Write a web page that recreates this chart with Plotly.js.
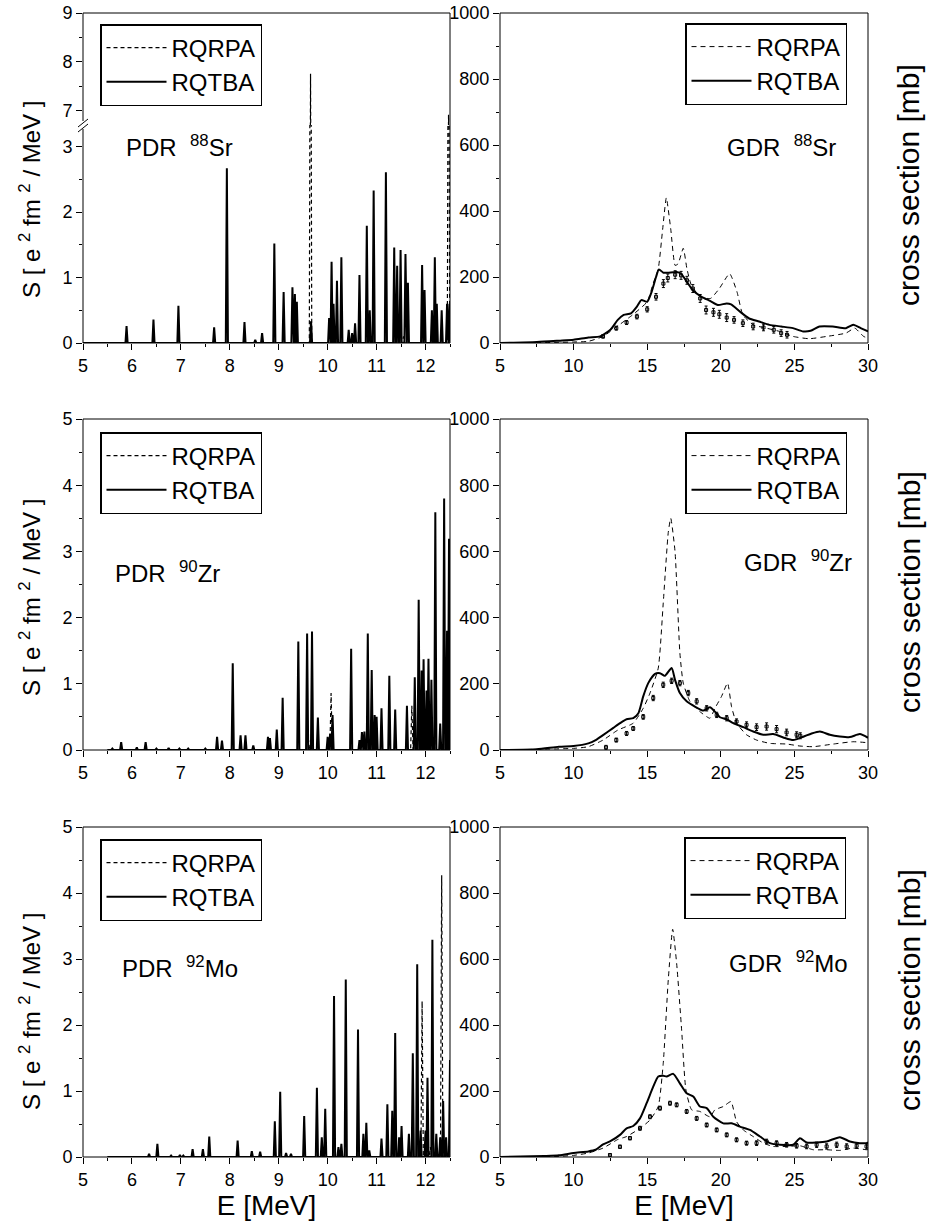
<!DOCTYPE html>
<html>
<head>
<meta charset="utf-8">
<script src="https://cdn.plot.ly/plotly-3.0.1.min.js"></script>
<style>html,body{margin:0;padding:0;background:#fff}#chart{width:930px;height:1228px}</style>
</head>
<body>
<div id="chart"></div>
<script>
// ---------------- DATA ----------------
// PDR strength: peak energies [MeV] and peak heights [e^2 fm^2 / MeV]
const srTbaE = [5.89, 6.44, 6.95, 7.68, 7.94, 8.30, 8.52, 8.66, 8.91, 9.10, 9.28, 9.33, 9.37, 9.66, 10.03, 10.08, 10.12, 10.19, 10.28, 10.43, 10.50, 10.56, 10.65, 10.80, 10.86, 10.94, 11.19, 11.36, 11.42, 11.49, 11.59, 11.64, 11.93, 11.98, 12.13, 12.19, 12.23, 12.33, 12.44, 12.49];
const srTbaS = [0.26, 0.36, 0.57, 0.24, 2.67, 0.32, 0.05, 0.15, 1.52, 0.78, 0.85, 0.75, 0.63, 0.33, 0.38, 1.24, 0.60, 0.95, 1.31, 0.20, 0.15, 0.30, 1.04, 1.79, 0.50, 2.33, 2.61, 1.46, 1.18, 1.42, 1.36, 0.92, 1.19, 0.81, 0.50, 1.31, 0.60, 0.50, 0.60, 0.60];
const srRpaE = [9.65, 11.55, 12.20, 12.47];
const srRpaS = [7.76, 0.10, 0.08, 6.92];

const zrTbaE = [5.60, 5.78, 6.10, 6.28, 6.50, 6.75, 6.97, 7.15, 7.50, 7.74, 7.84, 8.06, 8.22, 8.32, 8.48, 8.78, 8.82, 8.96, 9.08, 9.40, 9.58, 9.68, 9.80, 10.00, 10.05, 10.10, 10.48, 10.65, 10.70, 10.75, 10.82, 10.90, 10.96, 11.00, 11.10, 11.26, 11.38, 11.62, 11.78, 11.86, 11.92, 11.96, 12.02, 12.06, 12.12, 12.20, 12.30, 12.38, 12.44, 12.48];
const zrTbaS = [0.02, 0.12, 0.04, 0.12, 0.02, 0.03, 0.02, 0.02, 0.02, 0.20, 0.14, 1.31, 0.22, 0.22, 0.07, 0.20, 0.18, 0.31, 0.79, 1.64, 1.76, 1.79, 0.49, 0.20, 0.25, 0.53, 1.53, 0.15, 0.27, 0.28, 1.76, 1.21, 0.53, 0.50, 0.63, 1.12, 0.61, 0.67, 1.10, 2.27, 1.20, 1.37, 0.90, 1.38, 1.06, 3.59, 0.40, 3.80, 1.80, 3.19];
const zrRpaE = [9.65, 10.07, 11.72, 11.95, 12.20, 12.45];
const zrRpaS = [0.15, 0.86, 0.67, 0.35, 0.30, 0.75];

const moTbaE = [6.35, 6.52, 6.80, 6.98, 7.05, 7.24, 7.45, 7.58, 8.16, 8.45, 8.62, 8.92, 9.03, 9.15, 9.25, 9.52, 9.78, 9.88, 9.95, 10.13, 10.22, 10.28, 10.37, 10.62, 10.73, 10.79, 10.85, 11.10, 11.22, 11.32, 11.38, 11.46, 11.51, 11.66, 11.74, 11.83, 11.90, 12.00, 12.04, 12.14, 12.22, 12.30, 12.36, 12.42, 12.50];
const moTbaS = [0.05, 0.20, 0.02, 0.03, 0.02, 0.12, 0.12, 0.31, 0.25, 0.09, 0.08, 0.54, 0.99, 0.06, 0.05, 0.62, 1.05, 0.30, 0.73, 2.44, 0.15, 0.20, 2.69, 1.93, 0.35, 0.52, 0.10, 0.28, 0.80, 0.70, 1.88, 0.30, 0.47, 0.35, 1.57, 2.92, 0.40, 0.40, 1.20, 3.29, 0.35, 0.30, 0.85, 0.30, 1.47];
const moRpaE = [10.25, 11.93, 12.10, 12.33];
const moRpaS = [0.10, 2.36, 0.15, 4.27];

// GDR photoabsorption cross sections [mb]
const srGdrTbaE = [5, 7.5, 9, 10, 11, 11.8, 12.5, 13.0, 13.4, 13.9, 14.3, 14.6, 15.0, 15.3, 15.6, 15.8, 16.1, 16.4, 17.0, 17.3, 17.7, 18.1, 18.7, 19.3, 19.8, 20.4, 20.7, 21.3, 21.9, 22.6, 23.3, 24.1, 24.9, 25.6, 26.1, 26.7, 27.6, 28.5, 29.0, 29.5, 30];
const srGdrTbaV = [0, 3, 7, 10, 17, 20, 40, 70, 85, 90, 110, 130, 125, 155, 200, 223, 213, 213, 215, 210, 185, 160, 140, 127, 115, 120, 117, 95, 75, 65, 55, 50, 45, 35, 37, 50, 50, 45, 55, 45, 35];
const srGdrRpaE = [5, 9, 10, 11, 12, 13.1, 14.0, 15.0, 15.4, 15.75, 16.05, 16.3, 16.6, 16.9, 17.1, 17.45, 17.7, 18.0, 18.6, 19.3, 19.9, 20.6, 21.1, 21.5, 22.2, 23.1, 24.0, 24.9, 26.0, 27.2, 28.5, 29.1, 29.7, 30];
const srGdrRpaV = [0, 2, 3, 5, 20, 55, 85, 125, 180, 225, 345, 440, 345, 235, 240, 287, 225, 175, 140, 135, 165, 210, 155, 85, 55, 45, 35, 20, 13, 20, 30, 45, 20, 15];
const srExpE = [12.0, 12.9, 13.6, 14.3, 15.0, 15.6, 16.1, 16.4, 16.9, 17.3, 17.7, 18.1, 18.6, 19.0, 19.5, 19.9, 20.4, 20.9, 21.5, 22.2, 22.9, 23.6, 24.1, 24.5];
const srExpV = [20, 45, 62, 80, 102, 140, 180, 197, 207, 205, 190, 165, 135, 100, 93, 87, 77, 70, 60, 50, 47, 40, 30, 25];
const srExpErr = [5, 6, 6, 7, 8, 10, 12, 12, 12, 12, 12, 12, 12, 12, 12, 12, 12, 10, 10, 10, 10, 10, 10, 10];

const zrGdrTbaE = [5, 7.5, 9, 10, 11, 11.5, 12, 12.7, 13.15, 13.6, 14.05, 14.4, 14.73, 15.07, 15.53, 15.87, 16.2, 16.66, 16.89, 17.22, 17.68, 18.24, 18.81, 19.26, 19.6, 19.94, 20.4, 20.85, 21.53, 22.2, 22.9, 23.56, 24.24, 24.92, 25.6, 26.17, 26.74, 27.41, 28.09, 28.77, 29.45, 30];
const zrGdrTbaV = [0, 2, 10, 12, 20, 30, 45, 67, 81, 93, 96, 111, 162, 202, 230, 232, 224, 248, 212, 172, 147, 131, 119, 129, 116, 99, 93, 81, 69, 56, 46, 48, 38, 30, 40, 50, 56, 46, 41, 39, 48, 37];
const zrGdrRpaE = [5, 10, 11, 12, 13, 14.05, 14.73, 15.19, 15.75, 16.09, 16.43, 16.6, 16.89, 17.22, 17.45, 17.9, 18.58, 19.26, 19.6, 20.05, 20.46, 20.73, 21.07, 21.75, 22.43, 23.34, 24.47, 25.38, 26.28, 27.64, 28.99, 30];
const zrGdrRpaV = [0, 5, 10, 30, 60, 81, 126, 172, 247, 444, 657, 700, 600, 293, 202, 147, 116, 96, 126, 162, 202, 131, 81, 46, 30, 20, 18, 12, 10, 18, 25, 22];
const zrExpE = [12.2, 12.9, 13.6, 14.05, 14.73, 15.41, 16.09, 16.66, 17.22, 17.79, 18.36, 19.04, 19.72, 20.4, 21.07, 21.75, 22.43, 23.11, 23.79, 24.47, 25.15, 25.4];
const zrExpV = [8, 30, 50, 65, 100, 157, 197, 209, 202, 172, 147, 126, 106, 96, 86, 76, 69, 71, 63, 53, 46, 43];
const zrExpErr = [6, 6, 6, 6, 7, 8, 8, 8, 8, 8, 8, 8, 8, 8, 8, 9, 10, 11, 11, 10, 9, 9];

const moGdrTbaE = [5, 8, 9, 10, 11, 11.5, 12, 12.47, 13.15, 13.6, 14.05, 14.51, 14.96, 15.41, 15.75, 16.09, 16.32, 16.77, 17.22, 17.68, 18.13, 18.58, 19.04, 19.49, 20.17, 20.73, 21.3, 21.98, 22.66, 23.34, 24.02, 24.92, 25.38, 25.83, 26.51, 27.19, 28.09, 28.77, 29.45, 29.9, 30];
const moGdrTbaV = [0, 3, 5, 12, 17, 22, 38, 47, 67, 87, 94, 117, 163, 213, 244, 246, 244, 252, 223, 193, 183, 153, 148, 122, 102, 102, 92, 82, 62, 42, 37, 37, 57, 44, 44, 47, 60, 47, 42, 42, 45];
const moGdrRpaE = [5, 9, 10, 11, 12, 13, 13.6, 14.51, 15.19, 15.75, 16.09, 16.43, 16.73, 17.0, 17.34, 17.63, 18.02, 18.58, 19.26, 19.6, 20.17, 20.69, 21.07, 21.53, 22.2, 22.9, 23.56, 24.47, 25.38, 26.28, 27.19, 28.09, 28.99, 29.9, 30];
const moGdrRpaV = [0, 2, 5, 12, 27, 53, 62, 87, 112, 153, 284, 536, 690, 587, 385, 203, 143, 138, 122, 143, 153, 168, 107, 82, 62, 42, 32, 32, 34, 22, 22, 20, 27, 22, 22];
const moExpE = [12.47, 13.15, 13.83, 14.51, 15.19, 15.87, 16.55, 17.0, 17.68, 18.36, 19.04, 19.72, 20.4, 21.07, 21.75, 22.43, 23.11, 23.79, 24.47, 25.15, 25.83, 26.51, 27.19, 27.87, 28.55, 29.23, 29.9];
const moExpV = [6, 31, 57, 87, 122, 148, 163, 158, 138, 117, 97, 82, 67, 52, 42, 42, 47, 42, 37, 34, 32, 37, 32, 37, 32, 34, 32];
const moExpErr = [4, 5, 5, 6, 6, 6, 6, 6, 6, 6, 6, 6, 6, 6, 6, 7, 7, 7, 7, 7, 7, 8, 8, 8, 8, 8, 8];

const seriesNames = ['RQRPA', 'RQTBA'];
const pdrXTicks = [5, 6, 7, 8, 9, 10, 11, 12];
const gdrXTicks = [5, 10, 15, 20, 25, 30];
const gdrYTicks = [0, 200, 400, 600, 800, 1000];

// ---------------- helpers ----------------
const FONT = 'Liberation Sans, Arial, Helvetica, sans-serif';
const W = 930, H = 1228;
const px = x => x / W;
const py = y => 1 - y / H;

// narrow line-spectrum peaks drawn as spikes from the peak list
function spikes(E, S, start, end, w) {
  const x = [start], y = [0];
  E.forEach((e, i) => { x.push(e - w, e, e + w); y.push(0, S[i], 0); });
  x.push(end); y.push(0);
  return {x, y};
}

const traces = [];
function pdrPair(tbaE, tbaS, rpaE, rpaS, start, xa, ya, legend, extraY) {
  const r = spikes(rpaE, rpaS, start, 12.6, 0.025);
  const t = spikes(tbaE, tbaS, start, 12.6, 0.022);
  traces.push({type: 'scatter', mode: 'lines', name: seriesNames[0], x: r.x, y: r.y, xaxis: xa, yaxis: ya,
    legend: legend, line: {color: '#000', width: 1.2, dash: '4px,3px'}});
  traces.push({type: 'scatter', mode: 'lines', name: seriesNames[1], x: t.x, y: t.y, xaxis: xa, yaxis: ya,
    legend: legend, line: {color: '#000', width: 2}});
  if (extraY) {
    traces.push({type: 'scatter', mode: 'lines', name: seriesNames[0], x: r.x, y: r.y, xaxis: extraY[0], yaxis: extraY[1],
      showlegend: false, line: {color: '#000', width: 1.2, dash: '4px,3px'}});
  }
}
function gdrSet(tE, tV, rE, rV, eE, eV, eErr, xa, ya, legend) {
  traces.push({type: 'scatter', mode: 'lines', name: seriesNames[0], x: rE, y: rV, xaxis: xa, yaxis: ya,
    legend: legend, line: {color: '#000', width: 1, dash: '5px,4px', shape: 'spline', smoothing: 0.5}});
  traces.push({type: 'scatter', mode: 'lines', name: seriesNames[1], x: tE, y: tV, xaxis: xa, yaxis: ya,
    legend: legend, line: {color: '#000', width: 2, shape: 'spline', smoothing: 0.6}});
  traces.push({type: 'scatter', mode: 'markers', name: 'exp', showlegend: false, x: eE, y: eV, xaxis: xa, yaxis: ya,
    marker: {symbol: 'square-open', size: 3, color: '#000', line: {width: 1, color: '#000'}},
    error_y: {type: 'data', array: eErr, visible: true, color: '#000', thickness: 1, width: 1.5}});
}

pdrPair(srTbaE, srTbaS, srRpaE, srRpaS, 5.0, 'x', 'y', 'legend', ['x2', 'y2']);
gdrSet(srGdrTbaE, srGdrTbaV, srGdrRpaE, srGdrRpaV, srExpE, srExpV, srExpErr, 'x3', 'y3', 'legend2');
pdrPair(zrTbaE, zrTbaS, zrRpaE, zrRpaS, 5.5, 'x4', 'y4', 'legend3');
gdrSet(zrGdrTbaE, zrGdrTbaV, zrGdrRpaE, zrGdrRpaV, zrExpE, zrExpV, zrExpErr, 'x5', 'y5', 'legend4');
pdrPair(moTbaE, moTbaS, moRpaE, moRpaS, 5.5, 'x6', 'y6', 'legend5');
gdrSet(moGdrTbaE, moGdrTbaV, moGdrRpaE, moGdrRpaV, moExpE, moExpV, moExpErr, 'x7', 'y7', 'legend6');

// ---------------- layout ----------------
const L = [83, 450], R = [500, 868];
const rows = [[13, 343], [419, 750], [827, 1157]];
const brk = 125;
const tickFont = {family: FONT, size: 18, color: '#000'};
function ax(extra) {
  return Object.assign({showgrid: false, zeroline: false, showline: false, ticks: 'outside', ticklen: 6,
    tickwidth: 1, tickcolor: '#000', tickfont: tickFont, automargin: false, fixedrange: true}, extra);
}
const pdrX = (dom, anchor, extra) => ax(Object.assign({domain: dom, anchor: anchor, range: [5, 12.5],
  tickvals: pdrXTicks, minor: {ticks: 'outside', ticklen: 3, dtick: 0.5, tick0: 5, tickcolor: '#000'}}, extra));
const gdrX = (dom, anchor, extra) => ax(Object.assign({domain: dom, anchor: anchor, range: [5, 30],
  tickvals: gdrXTicks, minor: {ticks: 'outside', ticklen: 3, dtick: 2.5, tick0: 5, tickcolor: '#000'}}, extra));
const pdrY = (dom, anchor, range, tv) => ax({domain: dom, anchor: anchor, range: range, tickvals: tv,
  minor: {ticks: 'outside', ticklen: 3, dtick: 0.5, tick0: 0, tickcolor: '#000'}});
const gdrY = (dom, anchor) => ax({domain: dom, anchor: anchor, range: [0, 1000], tickvals: gdrYTicks,
  minor: {ticks: 'outside', ticklen: 3, dtick: 100, tick0: 0, tickcolor: '#000'}});
const dom = (a, b) => [a, b];
const xL = dom(px(L[0]), px(L[1])), xR = dom(px(R[0]), px(R[1]));
const yRow = r => dom(py(rows[r][1]), py(rows[r][0]));

const xTitle = {text: 'E [MeV]', font: {family: FONT, size: 28, color: '#000'}, standoff: 5};

const layout = {
  width: W, height: H, margin: {l: 0, r: 0, t: 0, b: 0},
  paper_bgcolor: '#fff', plot_bgcolor: 'rgba(0,0,0,0)',
  font: {family: FONT, color: '#000'},
  xaxis: pdrX(xL, 'y'),
  yaxis: pdrY(dom(py(rows[0][1]), py(brk)), 'x', [0, 3.33], [0, 1, 2, 3]),
  xaxis2: pdrX(xL, 'y2', {matches: 'x', showticklabels: false, ticks: '', minor: {ticks: ''}}),
  yaxis2: pdrY(dom(py(brk), py(rows[0][0])), 'x2', [6.71, 9], [7, 8, 9]),
  xaxis3: gdrX(xR, 'y3'),
  yaxis3: gdrY(yRow(0), 'x3'),
  xaxis4: pdrX(xL, 'y4'),
  yaxis4: pdrY(yRow(1), 'x4', [0, 5], [0, 1, 2, 3, 4, 5]),
  xaxis5: gdrX(xR, 'y5'),
  yaxis5: gdrY(yRow(1), 'x5'),
  xaxis6: pdrX(xL, 'y6', {title: xTitle}),
  yaxis6: pdrY(yRow(2), 'x6', [0, 5], [0, 1, 2, 3, 4, 5]),
  xaxis7: gdrX(xR, 'y7', {title: xTitle}),
  yaxis7: gdrY(yRow(2), 'x7'),
  shapes: [],
  annotations: []
};

// legends
const legPos = [[100, 24], [685, 23], [100, 432], [685, 432], [100, 839], [684, 837]];
['legend', 'legend2', 'legend3', 'legend4', 'legend5', 'legend6'].forEach((k, i) => {
  layout[k] = {x: px(legPos[i][0]), y: py(legPos[i][1]), xanchor: 'left', yanchor: 'top',
    bgcolor: '#fff', bordercolor: '#000', borderwidth: 1.5, itemwidth: 60,
    font: {family: FONT, size: 24, color: '#000'}, tracegroupgap: 0, traceorder: 'normal'};
});

// frames
const line = (x0, y0, x1, y1, w) => ({type: 'line', xref: 'paper', yref: 'paper',
  x0: px(x0), y0: py(y0), x1: px(x1), y1: py(y1), line: {color: '#000', width: w || 1}});
const rect = (x0, y0, x1, y1) => ({type: 'rect', xref: 'paper', yref: 'paper',
  x0: px(x0), y0: py(y0), x1: px(x1), y1: py(y1), line: {color: '#000', width: 1}});
layout.shapes.push(line(L[0], rows[0][1], L[1], rows[0][1]));
layout.shapes.push(line(L[0], rows[0][0], L[1], rows[0][0]));
layout.shapes.push(line(L[1], rows[0][0], L[1], rows[0][1]));
layout.shapes.push(line(L[0], rows[0][1], L[0], brk + 4));
layout.shapes.push(line(L[0], brk - 4, L[0], rows[0][0]));
layout.shapes.push(line(78, brk + 2, 88, brk - 6));
layout.shapes.push(line(78, brk + 7, 88, brk - 1));
layout.shapes.push(rect(R[0], rows[0][0], R[1], rows[0][1]));
[1, 2].forEach(r => {
  layout.shapes.push(rect(L[0], rows[r][0], L[1], rows[r][1]));
  layout.shapes.push(rect(R[0], rows[r][0], R[1], rows[r][1]));
});

// panel labels
const labFont = {family: FONT, size: 24, color: '#000'};
const sp = '\u00a0\u00a0';
const labels = [
  ['PDR' + sp + '<sup>88</sup>Sr', 124, 146], ['GDR' + sp + '<sup>88</sup>Sr', 725, 146],
  ['PDR' + sp + '<sup>90</sup>Zr', 113, 572], ['GDR' + sp + '<sup>90</sup>Zr', 742, 561],
  ['PDR' + sp + '<sup>92</sup>Mo', 120, 967], ['GDR' + sp + '<sup>92</sup>Mo', 727, 962]
];
labels.forEach(l => layout.annotations.push({text: l[0], x: px(l[1]), y: py(l[2]), xref: 'paper', yref: 'paper',
  xanchor: 'left', yanchor: 'middle', showarrow: false, font: labFont}));

// y-axis titles
const sTitle = 'S [ e <sup>2</sup> fm <sup>2</sup> / MeV ]';
[[200], [598], [1012]].forEach(v => layout.annotations.push({text: sTitle, x: px(30), y: py(v[0]),
  xref: 'paper', yref: 'paper', textangle: -90, showarrow: false, xanchor: 'center', yanchor: 'middle',
  font: {family: FONT, size: 24, color: '#000'}}));
[[185], [592], [990]].forEach(v => layout.annotations.push({text: 'cross section [mb]', x: px(909), y: py(v[0]),
  xref: 'paper', yref: 'paper', textangle: -90, showarrow: false, xanchor: 'center', yanchor: 'middle',
  font: {family: FONT, size: 30, color: '#000'}}));

Plotly.newPlot('chart', traces, layout, {displayModeBar: false});
</script>
</body>
</html>
